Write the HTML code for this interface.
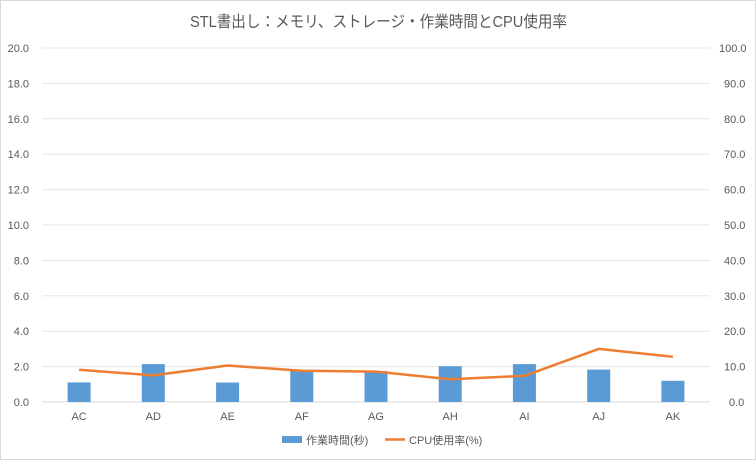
<!DOCTYPE html>
<html><head><meta charset="utf-8"><style>
body{margin:0;background:#fff}
svg{display:block;font-family:"Liberation Sans","Noto Sans CJK JP",sans-serif}
</style></head><body>
<svg width="756" height="460" viewBox="0 0 756 460" xmlns="http://www.w3.org/2000/svg">
<rect x="0.5" y="0.5" width="755" height="459" fill="#fff" stroke="#d9d9d9"/>
<text x="190" y="27" font-size="16" fill="#595959" textLength="377" lengthAdjust="spacingAndGlyphs">STL書出し：メモリ、ストレージ・作業時間とCPU使用率</text>
<g stroke="#e5e5e5" stroke-width="1">
<line x1="42" x2="710" y1="48" y2="48"/><line x1="42" x2="710" y1="83.4" y2="83.4"/>
<line x1="42" x2="710" y1="118.8" y2="118.8"/><line x1="42" x2="710" y1="154.2" y2="154.2"/>
<line x1="42" x2="710" y1="189.6" y2="189.6"/><line x1="42" x2="710" y1="225" y2="225"/>
<line x1="42" x2="710" y1="260.4" y2="260.4"/><line x1="42" x2="710" y1="295.8" y2="295.8"/>
<line x1="42" x2="710" y1="331.2" y2="331.2"/><line x1="42" x2="710" y1="366.6" y2="366.6"/>
</g>
<line x1="42" x2="710" y1="402" y2="402" stroke="#d9d9d9"/>
<g font-size="11" fill="#595959" text-anchor="end">
<text x="29" y="52">20.0</text><text x="29" y="87.4">18.0</text><text x="29" y="122.8">16.0</text>
<text x="29" y="158.2">14.0</text><text x="29" y="193.6">12.0</text><text x="29" y="229">10.0</text>
<text x="29" y="264.4">8.0</text><text x="29" y="299.8">6.0</text><text x="29" y="335.2">4.0</text>
<text x="29" y="370.6">2.0</text><text x="29" y="406">0.0</text>
</g>
<g font-size="11" fill="#595959" text-anchor="start">
<text x="719" y="52">100.0</text><text x="724" y="87.4">90.0</text><text x="724" y="122.8">80.0</text>
<text x="724" y="158.2">70.0</text><text x="724" y="193.6">60.0</text><text x="724" y="229">50.0</text>
<text x="724" y="264.4">40.0</text><text x="724" y="299.8">30.0</text><text x="724" y="335.2">20.0</text>
<text x="724" y="370.6">10.0</text><text x="729" y="406">0.0</text>
</g>
<g fill="#5b9bd5">
<rect x="67.6" y="382.4" width="23" height="19.6"/>
<rect x="141.8" y="364.1" width="23" height="37.9"/>
<rect x="216.1" y="382.5" width="23" height="19.5"/>
<rect x="290.3" y="370.1" width="23" height="31.9"/>
<rect x="364.5" y="371" width="23" height="31"/>
<rect x="438.7" y="366.2" width="23" height="35.8"/>
<rect x="512.9" y="364.1" width="23" height="37.9"/>
<rect x="587.2" y="369.6" width="23" height="32.4"/>
<rect x="661.4" y="380.8" width="23" height="21.2"/>
</g>
<polyline fill="none" stroke="#ed7d31" stroke-width="2.5" stroke-linejoin="round" points="79.1,369.8 153.3,375.4 227.6,365.5 301.8,370.8 376,371.6 450.2,379.3 524.4,375.8 598.7,348.9 672.9,356.7"/>
<g font-size="11" fill="#595959" text-anchor="middle">
<text x="79.1" y="420">AC</text><text x="153.3" y="420">AD</text><text x="227.6" y="420">AE</text>
<text x="301.8" y="420">AF</text><text x="376" y="420">AG</text><text x="450.2" y="420">AH</text>
<text x="524.4" y="420">AI</text><text x="598.7" y="420">AJ</text><text x="672.9" y="420">AK</text>
</g>
<rect x="282" y="436" width="20" height="7" fill="#5b9bd5"/>
<text x="306" y="444" font-size="11" fill="#595959">作業時間(秒)</text>
<line x1="385" x2="405" y1="439.5" y2="439.5" stroke="#ed7d31" stroke-width="2.5"/>
<text x="409" y="444" font-size="11" fill="#595959">CPU使用率(%)</text>
</svg>
</body></html>
